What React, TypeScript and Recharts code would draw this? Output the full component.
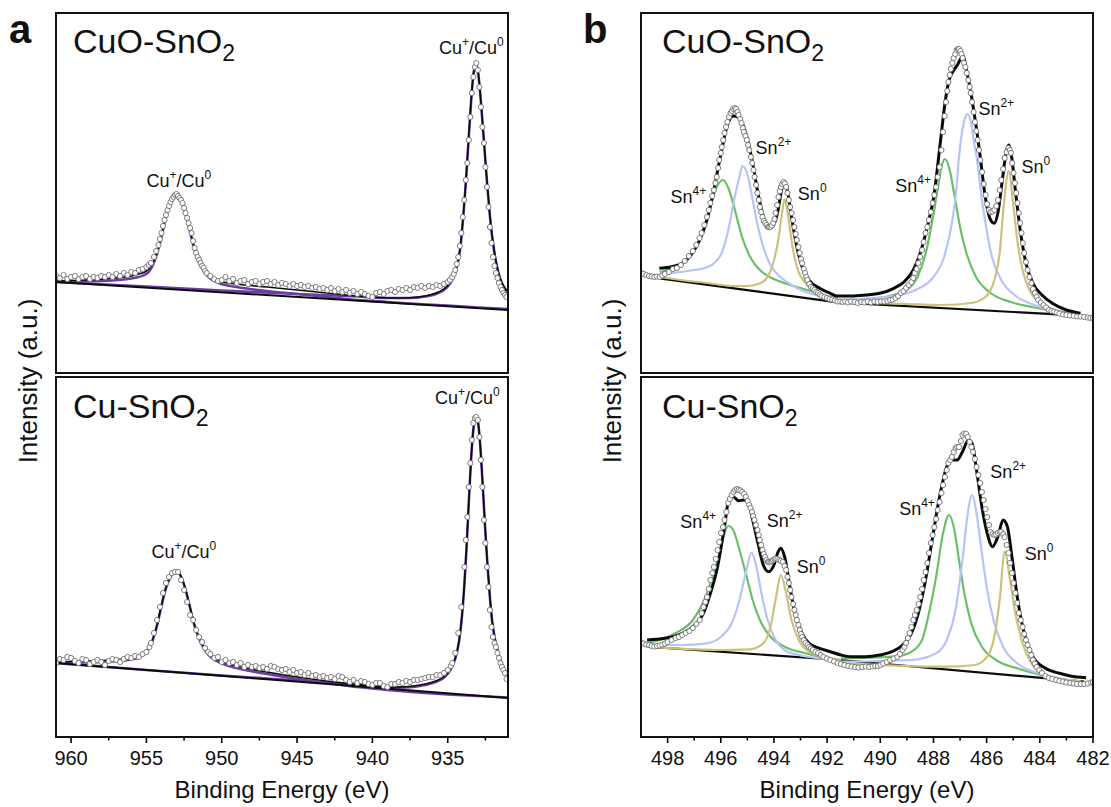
import React from 'react'
import { ComposedChart, Line, Scatter, XAxis, YAxis } from 'recharts'

const FONT = "Arial, 'Liberation Sans', Helvetica, sans-serif"

type P = [number, number]
const pts = (a: P[]) => a.map(([e, v]) => ({ e, v }))

// ---------- panel a : Cu 2p ----------
const cuTicks = [960, 957.5, 955, 952.5, 950, 947.5, 945, 942.5, 940, 937.5, 935, 932.5]
const cuMajors = [960, 955, 950, 945, 940, 935]

const cuoCuRings: P[] = [
  [961, 96], [960.75, 94], [960.5, 97], [960.25, 93], [960, 95], [959.75, 96], [959.5, 93], [959.25, 95], [959, 96],
  [958.75, 93], [958.5, 95], [958.25, 94], [958, 96], [957.75, 95], [957.5, 97], [957.25, 95], [957, 98], [956.75, 96],
  [956.5, 99], [956.25, 97], [956, 100], [955.75, 99], [955.5, 102], [955.25, 103], [955, 105], [954.85, 107], [954.7, 109],
  [954.5, 115], [954.35, 121], [954.2, 127], [954.1, 133], [954.0, 139], [953.9, 146], [953.8, 152], [953.7, 157], [953.6, 162],
  [953.5, 166], [953.4, 170], [953.3, 173], [953.2, 175], [953.1, 177], [953.0, 178], [952.9, 176], [952.8, 174], [952.7, 172],
  [952.6, 169], [952.5, 164], [952.4, 159], [952.3, 154], [952.2, 149], [952.1, 144], [952.0, 139], [951.9, 131], [951.8, 124],
  [951.7, 119], [951.6, 115], [951.5, 112], [951.4, 109], [951.3, 106], [951.2, 104], [951.1, 101], [951.0, 99],
  [950.75, 96], [950.5, 93], [950.25, 91], [950, 92], [949.75, 95], [949.5, 91], [949.25, 93], [949, 89], [948.75, 91],
  [948.5, 92], [948.25, 88], [948, 90], [947.75, 91], [947.5, 88], [947.25, 90], [947, 91], [946.75, 88], [946.5, 90],
  [946.25, 87], [946, 89], [945.75, 88], [945.5, 86], [945.25, 88], [945, 86], [944.75, 87], [944.5, 85], [944.25, 86],
  [944, 84], [943.75, 85], [943.5, 83], [943.25, 84], [943, 82], [942.75, 84], [942.5, 81], [942.25, 83], [942, 80],
  [941.75, 82], [941.5, 79], [941.25, 81], [941, 78], [940.75, 80], [940.5, 78], [940.25, 76], [940, 75], [939.75, 79],
  [939.5, 80], [939.25, 78], [939, 81], [938.75, 82], [938.5, 80], [938.25, 83], [938, 82], [937.75, 84], [937.5, 82],
  [937.25, 85], [937, 84], [936.75, 86], [936.5, 84], [936.25, 86], [936, 85], [935.75, 87], [935.5, 86], [935.25, 88],
  [935, 90], [934.85, 92], [934.7, 95], [934.6, 98], [934.5, 102], [934.4, 108], [934.3, 115], [934.2, 126], [934.1, 139],
  [934.0, 155], [933.9, 172], [933.8, 192], [933.7, 209], [933.6, 232], [933.5, 255], [933.4, 279], [933.3, 295], [933.2, 305],
  [933.1, 309], [933.0, 302], [932.9, 285], [932.8, 265], [932.7, 245], [932.6, 229], [932.5, 205], [932.4, 185], [932.3, 165],
  [932.2, 145], [932.1, 129], [932.0, 115], [931.9, 106], [931.8, 99], [931.7, 94], [931.6, 89], [931.5, 85], [931.4, 82],
  [931.3, 79], [931.2, 77], [931.1, 75],
]
const cuoCuFit: P[] = [
  [961, 91], [959, 92], [957, 94], [956, 96], [955.5, 98], [955, 101], [954.6, 108], [954.3, 120], [954.0, 137], [953.7, 157],
  [953.4, 170], [953.15, 176], [952.95, 177], [952.7, 172], [952.4, 159], [952.1, 141], [951.8, 124], [951.5, 112], [951.2, 103],
  [950.8, 96], [950.2, 91], [949, 88], [947, 85], [945, 82], [943, 79], [941, 76], [939.5, 74.5], [938, 74], [937, 75],
  [936.2, 77], [935.6, 80], [935.1, 85], [934.7, 93], [934.4, 106], [934.15, 127], [933.95, 160], [933.8, 190], [933.65, 225],
  [933.5, 260], [933.38, 285], [933.27, 301], [933.15, 308], [933.05, 306], [932.95, 296], [932.82, 275], [932.68, 248],
  [932.55, 222], [932.4, 192], [932.25, 165], [932.1, 142], [931.9, 120], [931.7, 104], [931.5, 93], [931.25, 85], [931, 80],
]
const cuoCuHalf: P[] = [
  [961, 90], [958, 91], [956, 93.5], [955, 98], [954.6, 106], [954.3, 118], [954.0, 135], [953.7, 155], [953.4, 168],
  [953.15, 175], [952.95, 176], [952.7, 171], [952.4, 158], [952.1, 140], [951.8, 122], [951.5, 110], [951.2, 101],
  [950.8, 94], [950.2, 89], [949, 85], [947, 81], [945, 78], [943, 75], [941, 72], [939, 70], [937, 68], [935, 66.5],
  [933, 64.5], [931, 63],
]
const cuoCuMain: P[] = [
  [961, 90], [955, 85.5], [950, 81.5], [945, 78], [941, 75.5], [939, 74], [937.5, 74], [936.5, 75.5], [935.7, 78.5], [935.1, 84],
  [934.7, 92], [934.4, 105], [934.15, 126], [933.95, 159], [933.8, 189], [933.65, 224], [933.5, 259], [933.38, 284],
  [933.27, 300], [933.15, 307], [933.05, 305], [932.95, 295], [932.82, 274], [932.68, 247], [932.55, 221], [932.4, 191],
  [932.25, 164], [932.1, 141], [931.9, 119], [931.7, 103], [931.5, 92], [931.25, 84], [931, 79],
]
const cuoCuBase: P[] = [[961, 90], [931, 62]]

const cuCuRings: P[] = [
  [961, 74], [960.75, 78], [960.5, 77], [960.25, 80], [960, 79], [959.75, 76], [959.5, 74], [959.25, 78], [959, 77],
  [958.75, 73], [958.5, 75], [958.25, 77], [958, 75], [957.75, 72], [957.5, 76], [957.25, 78], [957, 77], [956.75, 75],
  [956.5, 78], [956.25, 80], [956, 79], [955.75, 81], [955.5, 80], [955.25, 83], [955, 85], [954.8, 90], [954.7, 94],
  [954.5, 104], [954.3, 117], [954.1, 130], [953.9, 144], [953.7, 154], [953.5, 160], [953.3, 164], [953.1, 165], [952.9, 165],
  [952.7, 157], [952.5, 147], [952.3, 135], [952.1, 122], [951.9, 117], [951.7, 107], [951.5, 100], [951.3, 95], [951.1, 89],
  [950.9, 85], [950.75, 83], [950.5, 79], [950.25, 80], [950, 75], [949.75, 77], [949.5, 74], [949.25, 75], [949, 72],
  [948.75, 74], [948.5, 70], [948.25, 72], [948, 70], [947.75, 71], [947.5, 69], [947.25, 70], [947, 68], [946.75, 71],
  [946.5, 70], [946.25, 68], [946, 67], [945.75, 68], [945.5, 65], [945.25, 67], [945, 64], [944.75, 65], [944.5, 62],
  [944.25, 64], [944, 61], [943.75, 62], [943.5, 60], [943.25, 61], [943, 59], [942.75, 60], [942.5, 58], [942.25, 61],
  [942, 60], [941.75, 57], [941.5, 55], [941.25, 57], [941, 54], [940.75, 56], [940.5, 55], [940.25, 53], [940, 52],
  [939.75, 54], [939.5, 54], [939.25, 51], [939, 50], [938.75, 53], [938.5, 53], [938.25, 55], [938, 54], [937.75, 56],
  [937.5, 55], [937.25, 57], [937, 57], [936.75, 58], [936.5, 59], [936.25, 60], [936, 60], [935.75, 62], [935.5, 62],
  [935.25, 64], [935, 67], [934.8, 71], [934.7, 74], [934.5, 84], [934.3, 104], [934.1, 130], [933.9, 170], [933.8, 197],
  [933.7, 220], [933.6, 250], [933.5, 274], [933.4, 297], [933.3, 314], [933.2, 319], [933.1, 320], [933.0, 317], [932.9, 300],
  [932.8, 277], [932.7, 250], [932.6, 217], [932.5, 194], [932.4, 170], [932.3, 150], [932.2, 127], [932.1, 110], [932.0, 100],
  [931.9, 94], [931.8, 90], [931.7, 84], [931.6, 79], [931.5, 74], [931.4, 70], [931.3, 67], [931.2, 64], [931.1, 58],
]
const cuCuFit: P[] = [
  [961, 75], [959, 76], [957, 77.5], [956, 79], [955.4, 82], [955, 86], [954.6, 97], [954.3, 112], [954.0, 132], [953.7, 150],
  [953.4, 161], [953.15, 165.5], [952.95, 166], [952.7, 161], [952.4, 148], [952.1, 130], [951.8, 112], [951.5, 100], [951.2, 91],
  [950.8, 83], [950.2, 77], [949, 71], [947, 65], [945, 60], [943, 56], [941, 52.5], [939.5, 50.5], [938.3, 50], [937.3, 51],
  [936.5, 53], [935.8, 56], [935.2, 61], [934.8, 68], [934.5, 79], [934.25, 96], [934.05, 122], [933.9, 152], [933.75, 190],
  [933.6, 236], [933.45, 278], [933.32, 305], [933.2, 317], [933.1, 320], [933.0, 316], [932.9, 303], [932.78, 278],
  [932.65, 245], [932.5, 205], [932.35, 170], [932.2, 140], [932.05, 116], [931.85, 97], [931.6, 82], [931.35, 71], [931.0, 62],
]
const cuCuHalf: P[] = [
  [961, 74], [958, 75], [956, 77.5], [955.4, 80.5], [955, 84.5], [954.6, 96], [954.3, 111], [954.0, 131], [953.7, 149], [953.4, 160],
  [953.15, 164.5], [952.95, 165], [952.7, 160], [952.4, 147], [952.1, 129], [951.8, 111], [951.5, 98], [951.2, 89], [950.8, 81],
  [950.2, 75], [949, 69], [947, 63], [945, 58], [943, 54], [941, 50], [939, 47], [937, 44.5], [935, 42.5], [933, 41], [931, 39.5],
]
const cuCuMain: P[] = [
  [961, 74], [955, 67], [950, 61.5], [945, 56.5], [941, 52.5], [939.5, 50.5], [938.3, 49.5], [937.3, 50], [936.5, 52], [935.8, 55],
  [935.2, 60], [934.8, 67.5], [934.5, 78.5], [934.25, 95.5], [934.05, 121.5], [933.9, 151.5], [933.75, 189.5], [933.6, 235.5],
  [933.45, 277.5], [933.32, 304.5], [933.2, 316.5], [933.1, 319.5], [933.0, 315.5], [932.9, 302.5], [932.78, 277.5],
  [932.65, 244.5], [932.5, 204.5], [932.35, 169.5], [932.2, 139.5], [932.05, 115.5], [931.85, 96.5], [931.6, 81.5],
  [931.35, 70.5], [931.0, 61.5],
]
const cuCuBase: P[] = [[961, 74], [931, 39]]

const cuoCuLabels = [{ e: 952.85, v: 185 }, { e: 933.43, v: 318 }]
const cuCuLabels = [{ e: 952.52, v: 179 }, { e: 933.7, v: 333 }]

// ---------- panel b : Sn 3d ----------
const snTicks = [498, 497, 496, 495, 494, 493, 492, 491, 490, 489, 488, 487, 486, 485, 484, 483, 482]
const snMajors = [498, 496, 494, 492, 490, 488, 486, 484, 482]

const cuoSnRings: P[] = [
  [499.0, 99], [498.9, 98], [498.8, 97], [498.7, 96], [498.6, 95.5], [498.5, 95], [498.4, 95.5], [498.3, 95], [498.2, 96.5],
  [498.1, 98], [497.95, 100], [497.8, 103], [497.65, 104], [497.5, 107], [497.35, 111], [497.2, 116], [497.05, 121],
  [496.92, 127], [496.8, 134], [496.72, 139], [496.62, 147], [496.52, 155], [496.45, 162], [496.39, 169], [496.32, 176],
  [496.26, 182], [496.2, 189], [496.15, 195], [496.1, 204], [496.06, 212], [496.0, 219], [495.96, 225], [495.91, 232],
  [495.86, 239], [495.8, 245], [495.75, 250], [495.69, 255], [495.63, 259], [495.58, 261], [495.53, 263], [495.47, 264],
  [495.42, 263], [495.37, 260], [495.33, 257], [495.27, 253], [495.22, 249], [495.17, 244], [495.13, 240], [495.07, 236],
  [495.02, 232], [494.97, 227], [494.93, 222], [494.87, 215], [494.82, 209], [494.77, 202], [494.73, 195], [494.67, 187],
  [494.62, 179], [494.57, 172], [494.53, 165], [494.48, 160], [494.43, 155], [494.38, 151], [494.33, 149], [494.28, 147],
  [494.23, 145], [494.18, 145], [494.13, 145], [494.08, 146.5], [494.03, 149], [493.98, 153], [493.94, 159], [493.88, 167],
  [493.83, 175], [493.78, 181], [493.74, 185], [493.69, 188], [493.64, 190], [493.59, 188.5], [493.54, 185], [493.49, 179],
  [493.44, 172], [493.39, 165], [493.34, 159], [493.28, 152], [493.23, 145], [493.18, 138], [493.14, 132], [493.08, 125],
  [493.03, 119], [492.98, 113], [492.94, 109], [492.88, 103], [492.83, 99], [492.78, 95], [492.74, 92], [492.67, 88],
  [492.61, 85], [492.54, 83.5], [492.48, 82], [492.41, 80], [492.34, 79], [492.27, 77.5], [492.21, 76], [492.11, 75],
  [492.01, 74], [491.91, 73], [491.81, 72.5], [491.71, 71.5], [491.61, 70.5], [491.51, 70.5], [491.42, 70], [491.32, 70.5],
  [491.22, 69.5], [491.1, 70.5], [490.97, 70], [490.85, 69], [490.72, 70], [490.6, 69.5], [490.47, 70.5], [490.35, 69.5],
  [490.22, 70.5], [490.1, 70], [489.97, 70.5], [489.85, 70.5], [489.73, 71], [489.63, 72], [489.53, 72.5], [489.43, 74],
  [489.33, 76], [489.23, 79], [489.13, 81], [489.03, 84], [488.93, 87], [488.83, 90], [488.76, 94], [488.7, 99], [488.63, 103],
  [488.57, 109], [488.5, 115], [488.43, 122], [488.37, 130], [488.3, 139], [488.23, 145], [488.17, 152], [488.1, 160],
  [488.03, 169], [487.97, 177], [487.9, 185], [487.84, 195], [487.77, 205], [487.7, 222], [487.64, 240], [487.58, 256],
  [487.53, 270], [487.48, 281], [487.44, 290], [487.39, 297], [487.35, 303], [487.29, 309], [487.24, 314], [487.18, 318],
  [487.13, 322], [487.08, 323], [487.04, 323], [486.99, 321], [486.95, 318], [486.9, 314], [486.85, 309], [486.8, 305],
  [486.75, 299], [486.69, 292], [486.64, 285], [486.6, 279], [486.55, 270], [486.49, 260], [486.44, 250], [486.39, 241],
  [486.34, 232], [486.29, 222], [486.24, 212], [486.17, 200], [486.11, 188], [486.04, 177], [485.98, 168], [485.91, 162],
  [485.85, 160], [485.78, 160.5], [485.71, 162], [485.64, 166], [485.58, 172], [485.51, 182], [485.45, 192], [485.38, 203],
  [485.32, 214], [485.25, 220], [485.18, 224], [485.13, 222], [485.09, 219], [485.04, 209], [484.99, 199], [484.94, 189],
  [484.89, 179], [484.84, 169], [484.79, 159], [484.74, 149], [484.69, 139], [484.64, 129], [484.59, 119], [484.52, 110],
  [484.46, 102], [484.39, 95], [484.32, 89], [484.26, 83], [484.19, 79], [484.12, 75], [484.06, 72], [483.96, 69.5],
  [483.86, 67], [483.76, 64.5], [483.66, 62], [483.56, 61], [483.46, 60.5], [483.36, 59.5], [483.26, 58.5], [483.13, 57.5],
  [483.0, 57], [482.87, 56.5], [482.73, 56], [482.6, 55.5], [482.47, 55.5], [482.33, 55], [482.2, 54.5], [482.1, 54], [482.0, 54],
]
const cuoSnFit: P[] = [
  [498.31, 103.7], [497.85, 105.3], [497.45, 108.7], [497.12, 117], [496.79, 132], [496.52, 152], [496.26, 182], [495.99, 218.7],
  [495.75, 247], [495.53, 256], [495.33, 254.7], [495.19, 248.7], [494.99, 232], [494.8, 208.7], [494.6, 178.7], [494.4, 155.3],
  [494.2, 143.7], [494.07, 144.7], [493.87, 158.7], [493.71, 182], [493.6, 190.3], [493.5, 182], [493.34, 155.3], [493.14, 125.3],
  [492.94, 105.3], [492.68, 92], [492.28, 83.7], [491.88, 78.7], [491.61, 76], [491.08, 76], [490.55, 77], [490.02, 78.7],
  [489.49, 83.7], [489.1, 90.3], [488.76, 102], [488.5, 118.7], [488.23, 145.3], [487.97, 178.7], [487.74, 230], [487.55, 272],
  [487.4, 293], [487.28, 300], [487.1, 307], [486.89, 316], [486.74, 299], [486.61, 282], [486.49, 262], [486.36, 239],
  [486.26, 219], [486.05, 175], [485.85, 152], [485.71, 148.7], [485.58, 158.7], [485.41, 192], [485.25, 222], [485.17, 227],
  [485.06, 215.3], [484.92, 182], [484.72, 138.7], [484.52, 108.7], [484.26, 88.7], [483.92, 77], [483.53, 68.7], [483.0, 62],
  [482.47, 58.7],
]
const cuoSn4a: P[] = [
  [498.3, 100], [497.8, 104], [497.3, 112], [497.0, 122], [496.7, 140], [496.4, 165], [496.15, 185], [495.92, 192], [495.7, 183],
  [495.45, 160], [495.2, 135], [494.95, 118], [494.7, 107], [494.4, 99], [494.0, 93], [493.5, 88], [493.0, 84], [492.5, 80],
  [492.0, 76], [491.6, 74],
]
const cuoSn2a: P[] = [
  [498.3, 98], [497.5, 100], [497.0, 102], [496.6, 104], [496.2, 110], [495.95, 120], [495.7, 144], [495.5, 172], [495.3, 195],
  [495.19, 206], [495.0, 198], [494.8, 172], [494.6, 145], [494.4, 125], [494.15, 108], [493.8, 96], [493.4, 88], [492.9, 81],
  [492.3, 76], [491.6, 73],
]
const cuoSn0a: P[] = [
  [498.3, 95], [497.5, 92], [496.5, 89], [495.5, 86], [495.0, 86], [494.6, 88], [494.3, 93], [494.05, 107], [493.85, 130],
  [493.7, 158], [493.6, 173], [493.48, 158], [493.3, 125], [493.1, 102], [492.85, 90], [492.5, 81], [492.0, 76], [491.6, 73],
]
const cuoSn4b: P[] = [
  [491.6, 72], [490.5, 73], [489.5, 77], [489.0, 82], [488.6, 95], [488.3, 118], [488.05, 150], [487.83, 185], [487.7, 205],
  [487.57, 213], [487.4, 203], [487.2, 175], [487.0, 145], [486.75, 118], [486.4, 95], [485.9, 80], [485.1, 70], [484.3, 65],
  [483.4, 61], [482.5, 59],
]
const cuoSn2b: P[] = [
  [491.6, 72], [489.5, 76], [488.6, 83], [488.0, 95], [487.6, 115], [487.3, 150], [487.15, 180], [487.05, 212], [486.93, 239],
  [486.8, 255], [486.74, 258], [486.61, 252], [486.49, 232], [486.36, 212], [486.24, 185], [486.05, 150], [485.8, 115],
  [485.45, 92], [484.9, 76], [484.2, 67], [483.3, 60], [482.5, 58],
]
const cuoSn0b: P[] = [
  [491.6, 70], [489, 68], [487.7, 67], [486.58, 69], [486.05, 75], [485.71, 92], [485.51, 119], [485.36, 165], [485.17, 201],
  [484.99, 165], [484.85, 132], [484.65, 102], [484.39, 82], [483.92, 69], [483.26, 60], [482.47, 57],
]
const cuoSnBase: P[] = [[498.31, 93.7], [491.6, 69.7], [482.47, 56.3]]

const cuSnRings: P[] = [
  [499.0, 94], [498.9, 93.5], [498.8, 92.5], [498.7, 92], [498.6, 91], [498.5, 90.5], [498.4, 91], [498.3, 91.5], [498.2, 92.5],
  [498.1, 93.5], [498.0, 95], [497.85, 97], [497.7, 99], [497.58, 100], [497.45, 102], [497.32, 104], [497.18, 106], [497.05, 109],
  [496.92, 113], [496.79, 117], [496.72, 124], [496.65, 130], [496.58, 135], [496.52, 140], [496.45, 148], [496.39, 157],
  [496.32, 164], [496.26, 170], [496.19, 178], [496.12, 187], [496.06, 195], [495.99, 204], [495.92, 210], [495.86, 217],
  [495.79, 225], [495.72, 234], [495.66, 238], [495.59, 242], [495.52, 245], [495.46, 247], [495.39, 248], [495.33, 247],
  [495.26, 246.5], [495.19, 245], [495.12, 243], [495.06, 240], [494.99, 236], [494.93, 232], [494.88, 229], [494.82, 225],
  [494.78, 221], [494.73, 217], [494.68, 212], [494.62, 207], [494.57, 202], [494.53, 197], [494.48, 192], [494.43, 187],
  [494.38, 183], [494.33, 180], [494.28, 177], [494.23, 175], [494.18, 175], [494.13, 175], [494.08, 176], [494.03, 177],
  [493.98, 178], [493.94, 178.5], [493.87, 178], [493.8, 177], [493.74, 176], [493.67, 175], [493.6, 171], [493.54, 167],
  [493.49, 160], [493.44, 154], [493.39, 147], [493.34, 140], [493.28, 133], [493.23, 127], [493.18, 122], [493.14, 117],
  [493.08, 112], [493.03, 107], [492.98, 103], [492.94, 100], [492.88, 97], [492.81, 94], [492.74, 92], [492.68, 90],
  [492.61, 88.5], [492.54, 87], [492.44, 85], [492.34, 84], [492.24, 82], [492.14, 80], [492.01, 78.5], [491.88, 77],
  [491.74, 75.5], [491.61, 74], [491.48, 73], [491.35, 72], [491.21, 71], [491.08, 70.5], [490.95, 70], [490.82, 69.5],
  [490.68, 70], [490.55, 70.5], [490.42, 70], [490.29, 70.5], [490.19, 71], [490.09, 71], [489.99, 72], [489.89, 73.5],
  [489.76, 75], [489.63, 77], [489.5, 78.5], [489.36, 80], [489.26, 83], [489.16, 87], [489.09, 90], [489.03, 94], [488.96, 99],
  [488.9, 104], [488.83, 110], [488.76, 117], [488.7, 122], [488.63, 127], [488.56, 133], [488.5, 140], [488.43, 148],
  [488.37, 157], [488.3, 165], [488.23, 174], [488.17, 184], [488.1, 194], [488.03, 202], [487.97, 210], [487.9, 218],
  [487.84, 227], [487.77, 235], [487.7, 244], [487.64, 252], [487.57, 260], [487.5, 267], [487.44, 274], [487.37, 277],
  [487.31, 280], [487.24, 285], [487.17, 289], [487.11, 290], [487.04, 290], [486.97, 296], [486.91, 302], [486.84, 303.5],
  [486.77, 303], [486.71, 300], [486.64, 295], [486.57, 290], [486.51, 285], [486.44, 278], [486.38, 270], [486.31, 262],
  [486.24, 254], [486.18, 245], [486.11, 237], [486.04, 228], [485.98, 220], [485.91, 212], [485.85, 205], [485.78, 203],
  [485.71, 202], [485.65, 202.5], [485.58, 204], [485.51, 205], [485.45, 205], [485.38, 203], [485.32, 200], [485.25, 192],
  [485.18, 184], [485.12, 174], [485.05, 164], [484.99, 154], [484.92, 144], [484.85, 134], [484.79, 124], [484.72, 117],
  [484.65, 110], [484.59, 103], [484.52, 97], [484.46, 92], [484.39, 87], [484.32, 82], [484.26, 77], [484.19, 73.5],
  [484.12, 70], [484.02, 67], [483.92, 64], [483.79, 61], [483.66, 59], [483.53, 58], [483.39, 57], [483.26, 56], [483.13, 55.5],
  [483.0, 54.5], [482.86, 54], [482.73, 53.5], [482.6, 53], [482.46, 53], [482.33, 53], [482.2, 53.5], [482.07, 54.5], [482.0, 55],
]
const cuSnFit: P[] = [
  [498.77, 97], [498.11, 98.7], [497.58, 102], [497.05, 110.3], [496.65, 123.7], [496.39, 143.7], [496.12, 170.3], [495.86, 210.3],
  [495.7, 237], [495.53, 240.3], [495.33, 236.3], [495.13, 237], [494.96, 233.7], [494.8, 217], [494.6, 193.7], [494.4, 172],
  [494.2, 165.3], [494.0, 172], [493.84, 185.3], [493.74, 188.7], [493.6, 180.3], [493.4, 150.3], [493.21, 123.7], [492.94, 103.7],
  [492.68, 93.7], [492.28, 88.7], [491.88, 85.3], [491.48, 82], [491.08, 80.3], [490.55, 80.3], [490.02, 82], [489.56, 85.3],
  [489.16, 92], [488.83, 103.7], [488.57, 123.7], [488.3, 157], [488.03, 200.3], [487.77, 240.3], [487.5, 270.3], [487.31, 277],
  [487.11, 277], [486.91, 285.3], [486.68, 297], [486.55, 293.7], [486.38, 267], [486.18, 230.3], [485.98, 203.7],
  [485.78, 190.3], [485.58, 200.3], [485.38, 217], [485.22, 210.3], [485.05, 180.3], [484.85, 140.3], [484.59, 103.7],
  [484.26, 80.3], [483.79, 68.7], [483.26, 63.7], [482.86, 61], [482.26, 59.3],
]
const cuSn4a: P[] = [
  [498.77, 93.7], [497.71, 103.7], [497.05, 117], [496.52, 143.7], [496.12, 177], [495.86, 203.7], [495.72, 211], [495.53, 207],
  [495.33, 190.3], [495.06, 163.7], [494.8, 137], [494.47, 113.7], [494.13, 100.3], [493.6, 90.3], [492.81, 83.7], [492.01, 78.7],
  [491.48, 77],
]
const cuSn2a: P[] = [
  [498.77, 92], [497.45, 92], [496.52, 93.7], [495.99, 100.3], [495.59, 113.7], [495.33, 133.7], [495.06, 163.7], [494.84, 184.3],
  [494.66, 170.3], [494.47, 143.7], [494.27, 120.3], [494.0, 100.3], [493.6, 87], [493.07, 82], [492.28, 78.7], [491.48, 77],
]
const cuSn0a: P[] = [
  [498.77, 90.3], [496.12, 87], [494.93, 87.7], [494.4, 93.7], [494.13, 110.3], [493.94, 137], [493.74, 162], [493.54, 143.7],
  [493.34, 117], [493.07, 97], [492.68, 85.3], [492.01, 79.7], [491.48, 77],
]
const cuSn4b: P[] = [
  [491.48, 78.7], [489.49, 80.3], [488.83, 85.3], [488.43, 97], [488.17, 123.7], [487.9, 160.3], [487.64, 203.7], [487.41, 222],
  [487.24, 210.3], [487.04, 177], [486.84, 143.7], [486.58, 113.7], [486.18, 90.3], [485.65, 77], [484.85, 68.7], [483.79, 61],
  [482.47, 55.3],
]
const cuSn2b: P[] = [
  [491.48, 75.3], [488.83, 77], [487.9, 83.7], [487.5, 97], [487.17, 127], [486.91, 177], [486.71, 223.7], [486.55, 242],
  [486.38, 223.7], [486.18, 183.7], [485.98, 147], [485.71, 113.7], [485.38, 90.3], [484.85, 73.7], [484.06, 63.7], [483.26, 58.7],
  [482.47, 55.3],
]
const cuSn0b: P[] = [
  [491.48, 73.7], [487.5, 70.3], [486.44, 72], [485.98, 80.3], [485.71, 100.3], [485.51, 137], [485.32, 185.3], [485.12, 157],
  [484.92, 123.7], [484.65, 93.7], [484.32, 73.7], [483.79, 62], [483.13, 57], [482.47, 55.3],
]
const cuSnBase: P[] = [[498.77, 90.3], [491.5, 77], [482.33, 55.3]]

const cuoSnLabels = [
  { e: 497.89, v: 169, sup: '4+' }, { e: 494.69, v: 218, sup: '2+' }, { e: 493.1, v: 172, sup: '0' },
  { e: 489.44, v: 180, sup: '4+' }, { e: 486.31, v: 257, sup: '2+' }, { e: 484.69, v: 199, sup: '0' },
]
const cuSnLabels = [
  { e: 497.52, v: 209, sup: '4+' }, { e: 494.27, v: 210, sup: '2+' }, { e: 493.14, v: 164, sup: '0' },
  { e: 489.29, v: 222, sup: '4+' }, { e: 485.86, v: 259, sup: '2+' }, { e: 484.57, v: 177, sup: '0' },
]

// ---------- colours ----------
const C = {
  fit: '#0b0b0b',
  base: '#0b0b0b',
  cu: '#6a3ea1',
  sn4: '#6cbf6a',
  sn2: '#b9c3f7',
  sn0: '#cbc37c',
  ring: '#707070',
}

// ---------- shapes ----------
const Ring = (p: any) => <circle cx={p.cx} cy={p.cy} r={2.6} fill="#fff" stroke={C.ring} strokeWidth={0.9} />

const CuMark = (p: any) => (
  <text x={p.cx} y={p.cy} textAnchor="middle" fontSize={18} fontFamily={FONT} fill="#111">
    Cu<tspan fontSize={12} dy={-8}>+</tspan>
    <tspan dy={8}>/Cu</tspan>
    <tspan fontSize={12} dy={-8}>0</tspan>
  </text>
)

const SnMark = (p: any) => (
  <text x={p.cx} y={p.cy} fontSize={18} fontFamily={FONT} fill="#111">
    Sn<tspan fontSize={12} dy={-8}>{p.payload.sup}</tspan>
  </text>
)

function AxisTick({ x, y, payload, majors }: any) {
  const major = majors.includes(payload.value)
  return (
    <g>
      <line x1={x} x2={x} y1={y} y2={y + (major ? 6 : 3.5)} stroke="#000" strokeWidth={1.6} />
      {major && (
        <text x={x} y={y + 28} textAnchor="middle" fontSize={20} fontFamily={FONT} fill="#111">
          {payload.value}
        </text>
      )}
    </g>
  )
}

// ---------- layout ----------
const PW = 452
const PH = 360
const PAD = 20
const AXH = 42

function line(data: P[], color: string, width: number, key: string, type: 'monotone' | 'linear' = 'monotone') {
  return (
    <Line
      key={key}
      data={pts(data)}
      dataKey="v"
      type={type}
      stroke={color}
      strokeWidth={width}
      dot={false}
      activeDot={false}
      isAnimationActive={false}
    />
  )
}

function Panel({ left, top, domain, yDomain, ticks, majors, axis, children }: any) {
  return (
    <div style={{ position: 'absolute', left: left - PAD, top }}>
      <ComposedChart width={PW + PAD * 2} height={PH + (axis ? AXH : 0)} margin={{ top: 0, right: PAD, bottom: 0, left: PAD }}>
        <XAxis
          type="number"
          dataKey="e"
          domain={domain}
          reversed
          allowDataOverflow
          ticks={ticks}
          interval={0}
          tickSize={0}
          tickMargin={0}
          axisLine={false}
          tickLine={false}
          tick={<AxisTick majors={majors} />}
          height={AXH}
          hide={!axis}
        />
        <YAxis type="number" dataKey="v" domain={yDomain} hide allowDataOverflow />
        {children}
      </ComposedChart>
    </div>
  )
}

const Frame = ({ left, top }: { left: number; top: number }) => (
  <div
    style={{
      position: 'absolute',
      left: left - 1,
      top: top - 1,
      width: PW + 2,
      height: PH + 2,
      border: '2px solid #111',
      boxSizing: 'border-box',
      pointerEvents: 'none',
    }}
  />
)

function Title({ x, y, name }: { x: number; y: number; name: string }) {
  return (
    <text x={x} y={y} fontSize={34} fontFamily={FONT} fill="#111">
      {name}
      <tspan fontSize={23} dy={8}>2</tspan>
    </text>
  )
}

export default function App() {
  const LX = 56
  const RX = 641
  const TY = 13
  const BY = 377
  const cuDom = [931, 961]
  const snDom = [482, 499]
  return (
    <div style={{ position: 'absolute', left: 0, top: 0, width: 1111, height: 807, background: '#fff', fontFamily: FONT }}>
      <Panel left={LX} top={TY} domain={cuDom} yDomain={[-1, 359]} ticks={cuTicks} majors={cuMajors} axis={false}>
        {line(cuoCuHalf, C.cu, 2.6, 'h')}
        {line(cuoCuMain, C.cu, 2.6, 'm')}
        {line(cuoCuBase, C.base, 2, 'b', 'linear')}
        {line(cuoCuFit, C.fit, 1.6, 'f')}
        <Scatter data={pts(cuoCuRings)} shape={Ring} isAnimationActive={false} />
        <Scatter data={cuoCuLabels} shape={CuMark} isAnimationActive={false} />
      </Panel>
      <Panel left={LX} top={BY} domain={cuDom} yDomain={[0, 360]} ticks={cuTicks} majors={cuMajors} axis>
        {line(cuCuHalf, C.cu, 2.6, 'h')}
        {line(cuCuMain, C.cu, 2.6, 'm')}
        {line(cuCuBase, C.base, 2, 'b', 'linear')}
        {line(cuCuFit, C.fit, 1.6, 'f')}
        <Scatter data={pts(cuCuRings)} shape={Ring} isAnimationActive={false} />
        <Scatter data={cuCuLabels} shape={CuMark} isAnimationActive={false} />
      </Panel>
      <Panel left={RX} top={TY} domain={snDom} yDomain={[-1, 359]} ticks={snTicks} majors={snMajors} axis={false}>
        {line(cuoSnBase, C.base, 2.2, 'b', 'linear')}
        {line(cuoSn4a, C.sn4, 2.2, 'g1')}
        {line(cuoSn2a, C.sn2, 2.2, 'l1')}
        {line(cuoSn0a, C.sn0, 2.2, 'o1')}
        {line(cuoSn4b, C.sn4, 2.2, 'g2')}
        {line(cuoSn2b, C.sn2, 2.2, 'l2')}
        {line(cuoSn0b, C.sn0, 2.2, 'o2')}
        {line(cuoSnFit, C.fit, 3, 'f')}
        <Scatter data={pts(cuoSnRings)} shape={Ring} isAnimationActive={false} />
        <Scatter data={cuoSnLabels} shape={SnMark} isAnimationActive={false} />
      </Panel>
      <Panel left={RX} top={BY} domain={snDom} yDomain={[0, 360]} ticks={snTicks} majors={snMajors} axis>
        {line(cuSnBase, C.base, 2.2, 'b', 'linear')}
        {line(cuSn4a, C.sn4, 2.2, 'g1')}
        {line(cuSn2a, C.sn2, 2.2, 'l1')}
        {line(cuSn0a, C.sn0, 2.2, 'o1')}
        {line(cuSn4b, C.sn4, 2.2, 'g2')}
        {line(cuSn2b, C.sn2, 2.2, 'l2')}
        {line(cuSn0b, C.sn0, 2.2, 'o2')}
        {line(cuSnFit, C.fit, 3, 'f')}
        <Scatter data={pts(cuSnRings)} shape={Ring} isAnimationActive={false} />
        <Scatter data={cuSnLabels} shape={SnMark} isAnimationActive={false} />
      </Panel>

      <Frame left={LX} top={TY} />
      <Frame left={LX} top={BY} />
      <Frame left={RX} top={TY} />
      <Frame left={RX} top={BY} />

      <svg width={1111} height={807} style={{ position: 'absolute', left: 0, top: 0, pointerEvents: 'none' }}>
        <text x={9} y={43} fontSize={40} fontWeight="bold" fontFamily={FONT} fill="#111">a</text>
        <text x={583} y={43} fontSize={40} fontWeight="bold" fontFamily={FONT} fill="#111">b</text>
        <Title x={73} y={53} name="CuO-SnO" />
        <Title x={73} y={418} name="Cu-SnO" />
        <Title x={662} y={53} name="CuO-SnO" />
        <Title x={662} y={418} name="Cu-SnO" />
        <text transform="translate(37,381) rotate(-90)" textAnchor="middle" fontSize={26} fontFamily={FONT} fill="#111">
          Intensity (a.u.)
        </text>
        <text transform="translate(621,381) rotate(-90)" textAnchor="middle" fontSize={26} fontFamily={FONT} fill="#111">
          Intensity (a.u.)
        </text>
        <text x={282} y={798} textAnchor="middle" fontSize={24} fontFamily={FONT} fill="#111">Binding Energy (eV)</text>
        <text x={867} y={798} textAnchor="middle" fontSize={24} fontFamily={FONT} fill="#111">Binding Energy (eV)</text>
      </svg>
    </div>
  )
}
